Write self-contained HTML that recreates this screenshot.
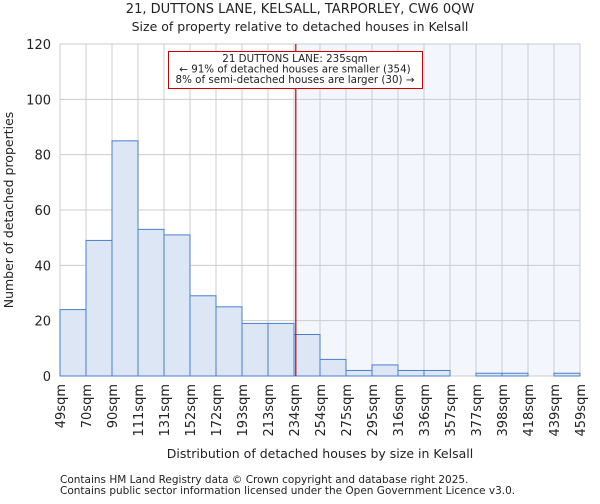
<!DOCTYPE html>
<html><head><meta charset="utf-8"><style>
body{margin:0;background:#fff;font-family:"DejaVu Sans","Liberation Sans",sans-serif}
text{font-family:"DejaVu Sans","Liberation Sans",sans-serif;fill:#222}
</style></head><body>
<svg id="chart" width="600" height="500" viewBox="0 0 600 500" xmlns="http://www.w3.org/2000/svg">
<text x="300" y="13" text-anchor="middle" font-size="13">21, DUTTONS LANE, KELSALL, TARPORLEY, CW6 0QW</text>
<text x="300" y="31" text-anchor="middle" font-size="12.5">Size of property relative to detached houses in Kelsall</text>
<g id="plot"></g>
<text x="320" y="458" text-anchor="middle" font-size="12.5">Distribution of detached houses by size in Kelsall</text>
<text transform="translate(13,210) rotate(-90)" text-anchor="middle" font-size="12.5">Number of detached properties</text>
<text x="60" y="483" font-size="10.5">Contains HM Land Registry data © Crown copyright and database right 2025.</text>
<text x="60" y="494" font-size="10.5">Contains public sector information licensed under the Open Government Licence v3.0.</text>
</svg>
<script>
const binEdges=[49,70,90,111,131,152,172,193,213,234,254,275,295,316,336,357,377,398,418,439,459];
const edgeLabels=["49sqm","70sqm","90sqm","111sqm","131sqm","152sqm","172sqm","193sqm","213sqm","234sqm","254sqm","275sqm","295sqm","316sqm","336sqm","357sqm","377sqm","398sqm","418sqm","439sqm","459sqm"];
const counts=[24,49,85,53,51,29,25,19,19,15,6,2,4,2,2,0,1,1,0,1];
const yTicks=[0,20,40,60,80,100,120];
const markerValue=235;
const L=60,R=580,T=44,B=376,yMax=120;
const NS="http://www.w3.org/2000/svg";
const g=document.getElementById('plot');
const xi=i=>L+(R-L)*i/(binEdges.length-1);
function xv(v){for(let i=0;i<binEdges.length-1;i++){if(v<=binEdges[i+1]){return xi(i)+(v-binEdges[i])/(binEdges[i+1]-binEdges[i])*(xi(i+1)-xi(i));}}return R;}
const y=v=>B-(B-T)*v/yMax;
function mk(t,a){const e=document.createElementNS(NS,t);for(const k in a)e.setAttribute(k,a[k]);g.appendChild(e);return e;}
const mx=xv(markerValue)+0.5;
let e=mk('rect',{x:mx,y:T,width:R-mx,height:B-T,fill:'#f3f6fd'});


for(const t of yTicks){e=mk('line',{x1:L,x2:R,y1:y(t),y2:y(t),stroke:'#ccc','stroke-width':1});


e=mk('text',{x:L-9,y:y(t)+5,'text-anchor':'end','font-size':13});e.textContent=t;

}
for(let i=0;i<binEdges.length;i++){e=mk('line',{x1:xi(i),x2:xi(i),y1:T,y2:B,stroke:'#ccc','stroke-width':1});


const tx=xi(i),ty=B+8;
e=mk('text',{x:tx+5,y:ty,'text-anchor':'end','font-size':13,transform:`rotate(-90 ${tx+5} ${ty})`});e.textContent=edgeLabels[i];

}
for(let i=0;i<counts.length;i++){if(counts[i]<=0)continue;
e=mk('rect',{x:xi(i),y:y(counts[i]),width:xi(i+1)-xi(i),height:B-y(counts[i]),fill:'#dce6f5',stroke:'#4a7fd0','stroke-width':1});

}
e=mk('line',{x1:mx,x2:mx,y1:T,y2:B,stroke:'#c00','stroke-width':1.2});


e=mk('rect',{x:168.5,y:51.5,width:254,height:37,fill:'#fff',stroke:'#c00','stroke-width':1});


const lines=["21 DUTTONS LANE: 235sqm","← 91% of detached houses are smaller (354)","8% of semi-detached houses are larger (30) →"];
lines.forEach((s,k)=>{e=mk('text',{x:295,y:62+k*10.5,'text-anchor':'middle','font-size':10.3});e.textContent=s;

});
</script>
</body></html>
